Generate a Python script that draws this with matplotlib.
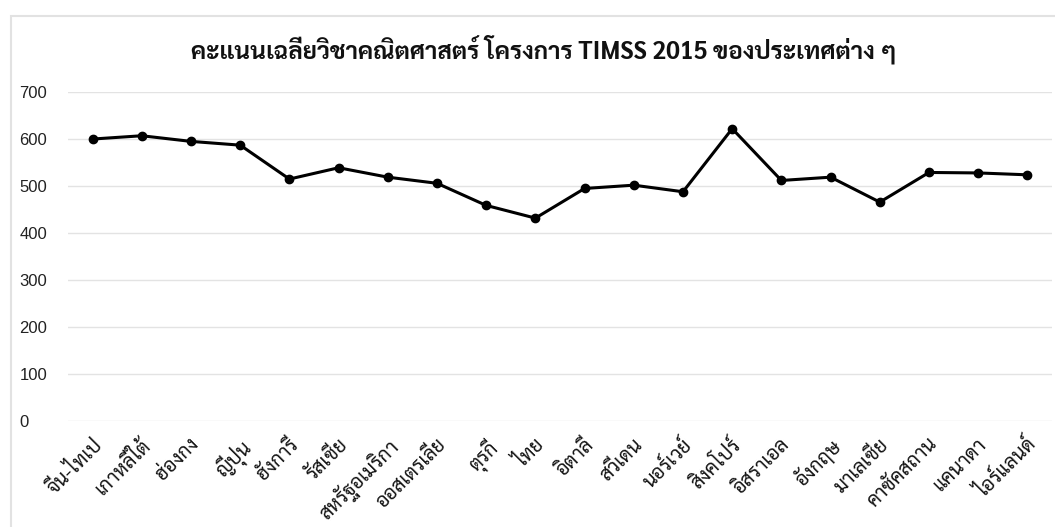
import matplotlib
matplotlib.use("Agg")
from matplotlib import pyplot
from matplotlib.patches import Rectangle
import matplotlib.transforms as transforms

# คะแนนคณิตศาสตร์ TIMSS 2015 (ม.2)
countries = ['จีน-ไทเป', 'เกาหลีใต้', 'ฮ่องกง', 'ญี่ปุ่น', 'ฮังการี', 'รัสเซีย',
             'สหรัฐอเมริกา', 'ออสเตรเลีย', 'ตุรกี', 'ไทย', 'อิตาลี', 'สวีเดน',
             'นอร์เวย์', 'สิงคโปร์', 'อิสราเอล', 'อังกฤษ', 'มาเลเซีย',
             'คาซัคสถาน', 'แคนาดา', 'ไอร์แลนด์']
scores = [599, 606, 594, 586, 514, 538, 518, 505, 458, 431, 494, 501,
          487, 621, 511, 518, 465, 528, 527, 523]
yTicks = [0, 100, 200, 300, 400, 500, 600, 700]

thaiFont = ['Sarabun', 'DejaVu Sans']
numberFont = ['Liberation Sans', 'DejaVu Sans']

figure = pyplot.figure(figsize=(10.55, 5.27), dpi=100)

# light frame around the chart area
figure.patches.append(Rectangle((11 / 1055, -0.1), 1.2, 1.1 - 16 / 527,
                                transform=figure.transFigure, fill=False,
                                edgecolor='#e2e2e2', linewidth=1.5))

axes = figure.add_axes([68 / 1055, 1 - 421 / 527, (1052 - 68) / 1055, (421 - 91.5) / 527])
positions = list(range(len(countries)))
axes.plot(positions, scores, color='black', linewidth=2.2,
          marker='o', markersize=6, zorder=3)

axes.set_xlim(-0.5, len(countries) - 0.5)
axes.set_ylim(0, 700)
axes.set_yticks(yTicks)
axes.set_yticklabels([str(t) for t in yTicks], family=numberFont, fontsize=12,
                     color='#222222', ha='left')
axes.yaxis.set_tick_params(length=0, pad=35)
axes.grid(axis='y', color='#e3e3e3', linewidth=1)
axes.set_axisbelow(True)
for spine in axes.spines.values():
    spine.set_visible(False)

axes.set_xticks(positions)
axes.set_xticklabels(countries, family=thaiFont, fontsize=14, color='#111111',
                     rotation=45, ha='right', rotation_mode='anchor')
axes.xaxis.set_tick_params(length=0, pad=10)
shift = transforms.ScaledTranslation(-1 / 100, 0, figure.dpi_scale_trans)
for label in axes.get_xticklabels():
    label.set_transform(label.get_transform() + shift)

figure.text(544 / 1055, 1 - 50 / 527,
            'คะแนนเฉลี่ยวิชาคณิตศาสตร์ โครงการ TIMSS 2015 ของประเทศต่าง ๆ',
            family=thaiFont, fontsize=17.5, fontweight='bold',
            ha='center', va='center', color='#111111')

figure.savefig('out.png', dpi=100)
